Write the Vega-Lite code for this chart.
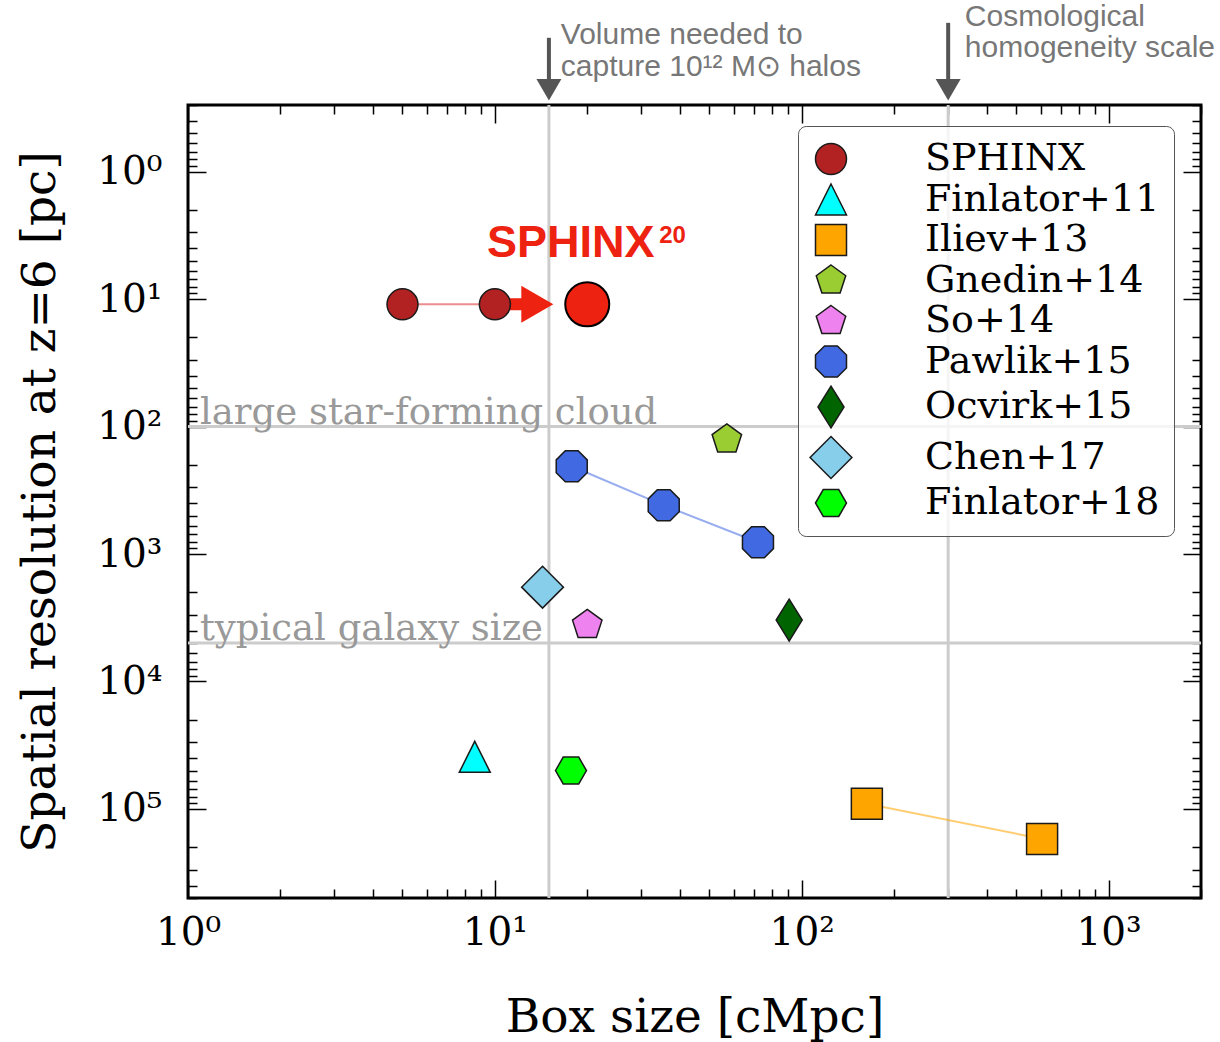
{
  "$schema": "https://vega.github.io/schema/vega-lite/v6.json",
  "width": 1013,
  "height": 793,
  "autosize": {"type": "none"},
  "padding": {"left": 188, "top": 105, "right": 19, "bottom": 144},
  "background": "white",
  "config": {
    "view": {"stroke": "black", "strokeWidth": 3},
    "font": "DejaVu Serif"
  },
  "datasets": {
    "sims": [
      {"series": "SPHINX", "box": 5, "res": 11},
      {"series": "SPHINX", "box": 10, "res": 11},
      {"series": "Finlator+11", "box": 8.6, "res": 39000},
      {"series": "Iliev+13", "box": 163, "res": 91000},
      {"series": "Iliev+13", "box": 607, "res": 172000},
      {"series": "Gnedin+14", "box": 57, "res": 126},
      {"series": "So+14", "box": 20, "res": 3600},
      {"series": "Pawlik+15", "box": 17.8, "res": 205},
      {"series": "Pawlik+15", "box": 35.5, "res": 415},
      {"series": "Pawlik+15", "box": 72, "res": 808},
      {"series": "Ocvirk+15", "box": 91, "res": 3300},
      {"series": "Chen+17", "box": 14.3, "res": 1820},
      {"series": "Finlator+18", "box": 17.7, "res": 50000}
    ],
    "sphinx20": [{"label": "SPHINX20", "box": 20, "res": 11}],
    "sphinxArrow": [{"box": 10, "box2": 13.75, "res": 11}],
    "refX": [{"box": 15}, {"box": 300}],
    "refY": [
      {"label": "large star-forming cloud", "box": 1.094, "res": 100},
      {"label": "typical galaxy size", "box": 1.094, "res": 5000}
    ],
    "topArrows": [
      {"box": 15, "res": 0.0891, "res2": 0.2277},
      {"box": 300, "res": 0.068, "res2": 0.2277}
    ],
    "notes": [
      {"text": "Volume needed to", "box": 16.4, "res": 0.0993},
      {"text": "capture 10¹² M⊙ halos", "box": 16.4, "res": 0.177},
      {"text": "Cosmological", "box": 340, "res": 0.0718},
      {"text": "homogeneity scale", "box": 340, "res": 0.1255}
    ],
    "sphinxLabel": [{"text": "SPHINX", "box": 9.42, "res": 4.64}],
    "sphinxSup": [{"text": "20", "box": 34.3, "res": 3.6}]
  },
  "resolve": {"axis": {"x": "independent", "y": "independent"}},
  "layer": [
    {
      "data": {"name": "refX"},
      "mark": {"type": "rule", "color": "#cccccc", "strokeWidth": 3},
      "encoding": {
        "x": {"field": "box", "type": "quantitative", "scale": {"type": "log", "domain": [1, 2000], "nice": false}, "axis": null}
      }
    },
    {
      "data": {"name": "refY"},
      "mark": {"type": "rule", "color": "#cccccc", "strokeWidth": 3},
      "encoding": {
        "y": {"field": "res", "type": "quantitative", "scale": {"type": "log", "domain": [0.3, 500000], "nice": false, "reverse": true}, "axis": null}
      }
    },
    {
      "data": {"name": "refY"},
      "mark": {"type": "text", "align": "left", "baseline": "alphabetic", "dy": -3, "font": "DejaVu Serif", "fontSize": 37, "color": "#999999"},
      "encoding": {
        "x": {"field": "box", "type": "quantitative", "scale": {"type": "log", "domain": [1, 2000], "nice": false}, "axis": null},
        "y": {"field": "res", "type": "quantitative", "scale": {"type": "log", "domain": [0.3, 500000], "nice": false, "reverse": true}, "axis": null},
        "text": {"field": "label"}
      }
    },
    {
      "data": {"name": "sims"},
      "transform": [{"filter": "datum.series === 'SPHINX'"}],
      "mark": {"type": "line", "strokeWidth": 2, "opacity": 0.55, "color": "#e03030"},
      "encoding": {
        "x": {"field": "box", "type": "quantitative", "scale": {"type": "log", "domain": [1, 2000], "nice": false},
          "axis": {"orient": "bottom", "values": [1, 10, 100, 1000], "offset": -18, "tickSize": 18, "tickWidth": 1.5, "tickColor": "black", "domain": false, "grid": false,
            "labelFont": "DejaVu Serif", "labelFontSize": 39, "labelColor": "black", "labelPadding": 15, "labelFlush": false, "labelOverlap": false,
            "labelExpr": "'10' + ['⁰','¹','²','³','⁴','⁵'][round(log(datum.value)/LN10)]",
            "title": "Box size [cMpc]", "titleFont": "DejaVu Serif", "titleFontSize": 47, "titleFontWeight": "normal", "titleColor": "black", "titlePadding": 42}},
        "y": {"field": "res", "type": "quantitative", "scale": {"type": "log", "domain": [0.3, 500000], "nice": false, "reverse": true},
          "axis": {"orient": "left", "values": [1, 10, 100, 1000, 10000, 100000], "offset": -18, "tickSize": 18, "tickWidth": 1.5, "tickColor": "black", "domain": false, "grid": false,
            "labelFont": "DejaVu Serif", "labelFontSize": 39, "labelColor": "black", "labelPadding": 26, "labelFlush": false, "labelOverlap": false,
            "labelExpr": "'10' + ['⁰','¹','²','³','⁴','⁵'][round(log(datum.value)/LN10)]",
            "title": "Spatial resolution at z=6 [pc]", "titleFont": "DejaVu Serif", "titleFontSize": 47, "titleFontWeight": "normal", "titleColor": "black", "titlePadding": 32}}
      }
    },
    {
      "data": {"name": "sims"},
      "transform": [{"filter": "datum.series === 'Iliev+13'"}],
      "mark": {"type": "line", "strokeWidth": 2, "opacity": 0.55, "color": "#ffa500"},
      "encoding": {
        "x": {"field": "box", "type": "quantitative", "scale": {"type": "log", "domain": [1, 2000], "nice": false}, "axis": null},
        "y": {"field": "res", "type": "quantitative", "scale": {"type": "log", "domain": [0.3, 500000], "nice": false, "reverse": true}, "axis": null}
      }
    },
    {
      "data": {"name": "sims"},
      "transform": [{"filter": "datum.series === 'Pawlik+15'"}],
      "mark": {"type": "line", "strokeWidth": 2, "opacity": 0.55, "color": "#4169e1"},
      "encoding": {
        "x": {"field": "box", "type": "quantitative", "scale": {"type": "log", "domain": [1, 2000], "nice": false}, "axis": null},
        "y": {"field": "res", "type": "quantitative", "scale": {"type": "log", "domain": [0.3, 500000], "nice": false, "reverse": true}, "axis": null}
      }
    },
    {
      "data": {"name": "sphinxArrow"},
      "mark": {"type": "rule", "color": "#ee2211", "strokeWidth": 12},
      "encoding": {
        "x": {"field": "box", "type": "quantitative", "scale": {"type": "log", "domain": [1, 2000], "nice": false}, "axis": null},
        "x2": {"field": "box2"},
        "y": {"field": "res", "type": "quantitative", "scale": {"type": "log", "domain": [0.3, 500000], "nice": false, "reverse": true}, "axis": null}
      }
    },
    {
      "data": {"name": "sphinxArrow"},
      "mark": {"type": "point", "shape": "triangle-right", "size": 1369, "filled": true, "color": "#ee2211", "opacity": 1},
      "encoding": {
        "x": {"field": "box2", "type": "quantitative", "scale": {"type": "log", "domain": [1, 2000], "nice": false},
          "axis": {"orient": "top", "values": [2,3,4,5,6,7,8,9,20,30,40,50,60,70,80,90,200,300,400,500,600,700,800,900,2000], "offset": -9, "tickSize": 9, "tickWidth": 1.5, "tickColor": "black", "domain": false, "grid": false, "labels": false, "title": null}},
        "y": {"field": "res", "type": "quantitative", "scale": {"type": "log", "domain": [0.3, 500000], "nice": false, "reverse": true},
          "axis": {"orient": "right", "values": [0.3,0.4,0.5,0.6,0.7,0.8,0.9,2,3,4,5,6,7,8,9,20,30,40,50,60,70,80,90,200,300,400,500,600,700,800,900,2000,3000,4000,5000,6000,7000,8000,9000,20000,30000,40000,50000,60000,70000,80000,90000,200000,300000,400000,500000], "offset": -9, "tickSize": 9, "tickWidth": 1.5, "tickColor": "black", "domain": false, "grid": false, "labels": false, "title": null}}
      }
    },
    {
      "data": {"name": "sims"},
      "mark": {"type": "point", "filled": true, "stroke": "#1a1a1a", "strokeWidth": 1.5, "opacity": 1, "size": 961},
      "encoding": {
        "x": {"field": "box", "type": "quantitative", "scale": {"type": "log", "domain": [1, 2000], "nice": false},
          "axis": {"orient": "bottom", "values": [2,3,4,5,6,7,8,9,20,30,40,50,60,70,80,90,200,300,400,500,600,700,800,900,2000], "offset": -9, "tickSize": 9, "tickWidth": 1.5, "tickColor": "black", "domain": false, "grid": false, "labels": false, "title": null}},
        "y": {"field": "res", "type": "quantitative", "scale": {"type": "log", "domain": [0.3, 500000], "nice": false, "reverse": true},
          "axis": {"orient": "left", "values": [0.3,0.4,0.5,0.6,0.7,0.8,0.9,2,3,4,5,6,7,8,9,20,30,40,50,60,70,80,90,200,300,400,500,600,700,800,900,2000,3000,4000,5000,6000,7000,8000,9000,20000,30000,40000,50000,60000,70000,80000,90000,200000,300000,400000,500000], "offset": -9, "tickSize": 9, "tickWidth": 1.5, "tickColor": "black", "domain": false, "grid": false, "labels": false, "title": null}},
        "color": {"field": "series", "type": "nominal",
          "scale": {"domain": ["SPHINX", "Finlator+11", "Iliev+13", "Gnedin+14", "So+14", "Pawlik+15", "Ocvirk+15", "Chen+17", "Finlator+18"],
            "range": ["#b22222", "#00ffff", "#ffa500", "#9acd32", "#ee82ee", "#4169e1", "#006400", "#87ceeb", "#00ff00"]},
          "legend": {"title": null, "orient": "none", "legendX": 610, "legendY": 21,
            "labelFont": "DejaVu Serif", "labelFontSize": 38, "labelColor": "black", "labelLimit": 400,
            "fillColor": "rgba(255,255,255,0.8)", "strokeColor": "#555555", "cornerRadius": 8,
            "padding": 14, "rowPadding": 2.5, "symbolSize": 961,
            "symbolStrokeWidth": 1.5, "symbolOpacity": 1, "labelOffset": 75}},
        "shape": {"field": "series", "type": "nominal",
          "scale": {"domain": ["SPHINX", "Finlator+11", "Iliev+13", "Gnedin+14", "So+14", "Pawlik+15", "Ocvirk+15", "Chen+17", "Finlator+18"],
            "range": ["circle", "M0,-1L1,1L-1,1Z", "square", "M0,-1L0.951,-0.309L0.588,0.809L-0.588,0.809L-0.951,-0.309Z", "M0,-1L0.951,-0.309L0.588,0.809L-0.588,0.809L-0.951,-0.309Z", "M-0.414,-1L0.414,-1L1,-0.414L1,0.414L0.414,1L-0.414,1L-1,0.414L-1,-0.414Z", "M0,-1.35L0.84,0L0,1.35L-0.84,0Z", "M0,-1.35L1.35,0L0,1.35L-1.35,0Z", "M-1,0L-0.5,-0.866L0.5,-0.866L1,0L0.5,0.866L-0.5,0.866Z"]},
          "legend": {"title": null, "orient": "none", "legendX": 610, "legendY": 21,
            "labelFont": "DejaVu Serif", "labelFontSize": 38, "labelColor": "black", "labelLimit": 400,
            "fillColor": "rgba(255,255,255,0.8)", "strokeColor": "#555555", "cornerRadius": 8,
            "padding": 14, "rowPadding": 2.5, "symbolSize": 961,
            "symbolStrokeWidth": 1.5, "symbolOpacity": 1, "labelOffset": 75}}
      }
    },
    {
      "data": {"name": "sphinx20"},
      "mark": {"type": "point", "shape": "circle", "size": 1936, "filled": true, "fill": "#ee2211", "stroke": "black", "strokeWidth": 2, "opacity": 1},
      "encoding": {
        "x": {"field": "box", "type": "quantitative", "scale": {"type": "log", "domain": [1, 2000], "nice": false},
          "axis": {"orient": "top", "values": [1, 10, 100, 1000], "offset": -18, "tickSize": 18, "tickWidth": 1.5, "tickColor": "black", "domain": false, "grid": false, "labels": false, "title": null}},
        "y": {"field": "res", "type": "quantitative", "scale": {"type": "log", "domain": [0.3, 500000], "nice": false, "reverse": true},
          "axis": {"orient": "right", "values": [1, 10, 100, 1000, 10000, 100000], "offset": -18, "tickSize": 18, "tickWidth": 1.5, "tickColor": "black", "domain": false, "grid": false, "labels": false, "title": null}}
      }
    },
    {
      "data": {"name": "sphinxLabel"},
      "mark": {"type": "text", "align": "left", "baseline": "alphabetic", "font": "Liberation Sans", "fontWeight": "bold", "fontSize": 45, "color": "#ee2211"},
      "encoding": {
        "x": {"field": "box", "type": "quantitative", "scale": {"type": "log", "domain": [1, 2000], "nice": false}, "axis": null},
        "y": {"field": "res", "type": "quantitative", "scale": {"type": "log", "domain": [0.3, 500000], "nice": false, "reverse": true}, "axis": null},
        "text": {"field": "text"}
      }
    },
    {
      "data": {"name": "sphinxSup"},
      "mark": {"type": "text", "align": "left", "baseline": "alphabetic", "font": "Liberation Sans", "fontWeight": "bold", "fontSize": 24, "color": "#ee2211"},
      "encoding": {
        "x": {"field": "box", "type": "quantitative", "scale": {"type": "log", "domain": [1, 2000], "nice": false}, "axis": null},
        "y": {"field": "res", "type": "quantitative", "scale": {"type": "log", "domain": [0.3, 500000], "nice": false, "reverse": true}, "axis": null},
        "text": {"field": "text"}
      }
    },
    {
      "data": {"name": "topArrows"},
      "mark": {"type": "rule", "color": "#555555", "strokeWidth": 4, "clip": false},
      "encoding": {
        "x": {"field": "box", "type": "quantitative", "scale": {"type": "log", "domain": [1, 2000], "nice": false}, "axis": null},
        "y": {"field": "res", "type": "quantitative", "scale": {"type": "log", "domain": [0.3, 500000], "nice": false, "reverse": true}, "axis": null},
        "y2": {"field": "res2"}
      }
    },
    {
      "data": {"name": "topArrows"},
      "mark": {"type": "point", "shape": "triangle-down", "size": 625, "filled": true, "color": "#555555", "opacity": 1, "clip": false},
      "encoding": {
        "x": {"field": "box", "type": "quantitative", "scale": {"type": "log", "domain": [1, 2000], "nice": false}, "axis": null},
        "y": {"field": "res2", "type": "quantitative", "scale": {"type": "log", "domain": [0.3, 500000], "nice": false, "reverse": true}, "axis": null}
      }
    },
    {
      "data": {"name": "notes"},
      "mark": {"type": "text", "align": "left", "baseline": "alphabetic", "font": "Liberation Sans", "fontSize": 30, "color": "#777777", "clip": false},
      "encoding": {
        "x": {"field": "box", "type": "quantitative", "scale": {"type": "log", "domain": [1, 2000], "nice": false}, "axis": null},
        "y": {"field": "res", "type": "quantitative", "scale": {"type": "log", "domain": [0.3, 500000], "nice": false, "reverse": true}, "axis": null},
        "text": {"field": "text"}
      }
    }
  ]
}
